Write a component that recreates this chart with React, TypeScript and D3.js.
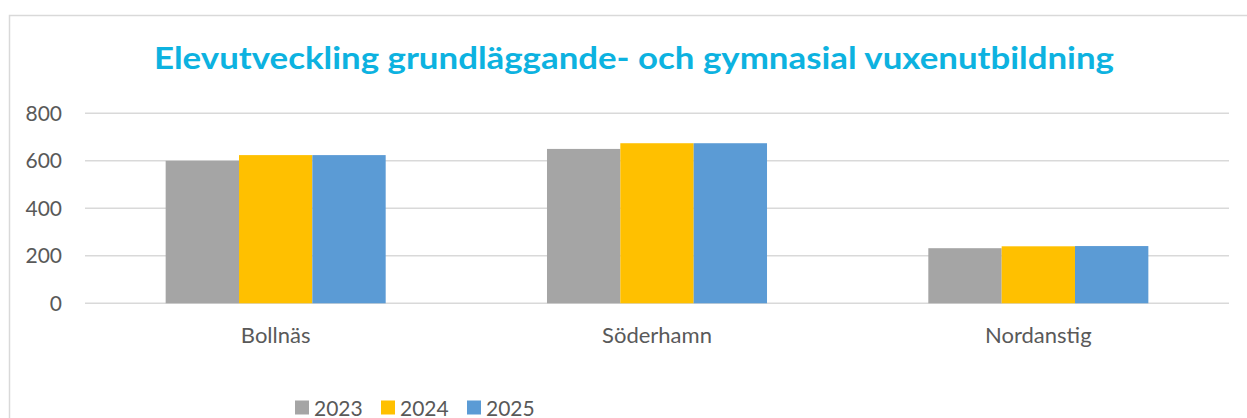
import * as d3 from "d3";

const categories = ["Bollnäs", "Söderhamn", "Nordanstig"];
const years = ["2023", "2024", "2025"];
const values2023 = [600, 650, 232];
const values2024 = [624, 674, 240];
const values2025 = [624, 674, 241];
const yTicks = [0, 200, 400, 600, 800];
const colors = ["#A5A5A5", "#FFC000", "#5B9BD5"];

const series = [values2023, values2024, values2025];

function App() {
  const width = 1247;
  const height = 418;
  const font = "Lato, 'Open Sans', sans-serif";
  const textColor = "#595959";

  const x = d3
    .scaleBand()
    .domain(categories)
    .range([85, 1229])
    .paddingInner(0.423)
    .paddingOuter(0.2115);

  const xInner = d3.scaleBand().domain(years).range([0, x.bandwidth()]);

  const y = d3.scaleLinear().domain([0, 800]).range([303.3, 113.3]);

  const legendX = [295, 381, 467];

  return (
    <svg
      width={width}
      height={height}
      style={{ position: "absolute", left: 0, top: 0 }}
      fontFamily={font}
    >
      <rect width={width} height={height} fill="#fff" />
      {/* chart frame */}
      <path
        d={`M9.5,${height} V15.5 H${width}`}
        fill="none"
        stroke="#D9D9D9"
        strokeWidth={1.5}
      />

      <text
        x={634}
        y={69}
        textAnchor="middle"
        fontSize={31}
        fontWeight={700}
        fill="#0DB2E0"
        textLength={960}
        lengthAdjust="spacingAndGlyphs"
      >
        Elevutveckling grundläggande- och gymnasial vuxenutbildning
      </text>

      {/* gridlines */}
      {yTicks.map((t) => (
        <g key={t}>
          <line
            x1={85}
            x2={1229}
            y1={y(t)}
            y2={y(t)}
            stroke="#D9D9D9"
            strokeWidth={1.5}
          />
          <text
            x={62}
            y={y(t) + 7.5}
            textAnchor="end"
            fontSize={21}
            fill={textColor}
          >
            {t}
          </text>
        </g>
      ))}

      {/* bars */}
      {categories.map((c, ci) => (
        <g key={c} transform={`translate(${x(c)},0)`}>
          {years.map((yr, si) => (
            <rect
              key={yr}
              x={xInner(yr)}
              y={y(series[si][ci])}
              width={xInner.bandwidth()}
              height={y(0) - y(series[si][ci])}
              fill={colors[si]}
            />
          ))}
          <text
            x={x.bandwidth() / 2}
            y={343}
            textAnchor="middle"
            fontSize={22}
            fill={textColor}
          >
            {c}
          </text>
        </g>
      ))}

      {/* legend */}
      {years.map((yr, i) => (
        <g key={yr}>
          <rect x={legendX[i]} y={400.5} width={14} height={14} fill={colors[i]} />
          <text x={legendX[i] + 19} y={415.5} fontSize={21} fill={textColor}>
            {yr}
          </text>
        </g>
      ))}
    </svg>
  );
}

export default App;
